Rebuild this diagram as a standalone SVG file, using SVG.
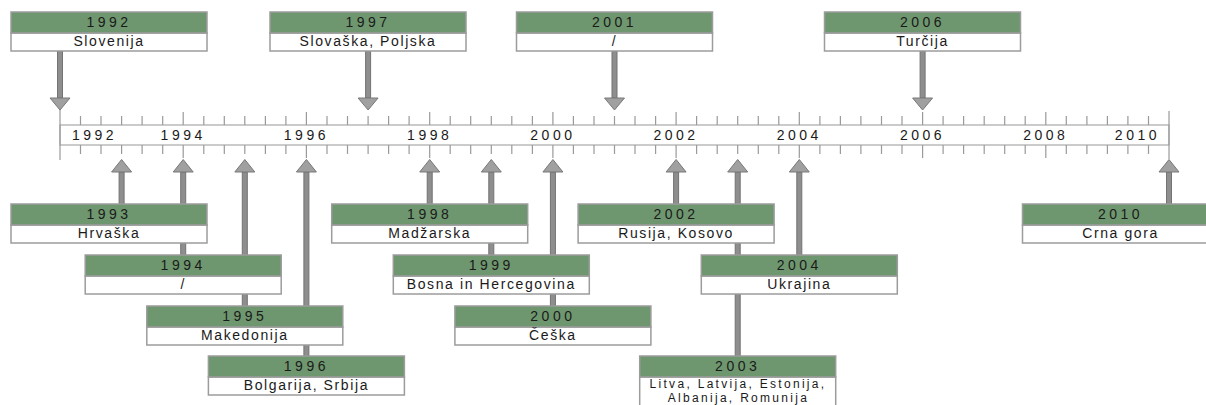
<svg xmlns="http://www.w3.org/2000/svg" width="1206" height="405" viewBox="0 0 1206 405">
<style>
.hd{fill:#6f976f;stroke:#9c9c9c;stroke-width:1.5}
.bd{fill:#fff;stroke:#9c9c9c;stroke-width:1.5}
.t{font-family:"Liberation Sans",Arial,sans-serif;font-size:14px;fill:#1a1a1a;text-anchor:middle}
.n{letter-spacing:3.5px}
.w{letter-spacing:1.6px}
.s{font-size:12px;letter-spacing:2.3px}
.sh{fill:#8e8e8e;stroke:#737373;stroke-width:1}
.ah{fill:#a0a0a0;stroke:#787878;stroke-width:1}
.tk{stroke:#9a9a9a;stroke-width:1.2;fill:none}
</style>
<g id="axis">
<rect x="60" y="125" width="1109" height="20" fill="#fff" stroke="#a8a8a8" stroke-width="1.2"/>
<path class="tk" d="M80.5 116V125M101 116V125M121.6 116V125M142.1 116V125M162.7 116V125M203.8 116V125M224.3 116V125M244.8 116V125M265.4 116V125M285.9 116V125M327 116V125M347.5 116V125M368.1 116V125M388.6 116V125M409.1 116V125M450.2 116V125M470.7 116V125M491.3 116V125M511.8 116V125M532.4 116V125M573.4 116V125M594 116V125M614.5 116V125M635 116V125M655.6 116V125M696.6 116V125M717.2 116V125M737.7 116V125M758.3 116V125M778.8 116V125M819.9 116V125M840.4 116V125M860.9 116V125M881.5 116V125M902 116V125M943.1 116V125M963.6 116V125M984.2 116V125M1004.7 116V125M1025.2 116V125M1066.3 116V125M1086.9 116V125M1107.4 116V125M1127.9 116V125M1148.5 116V125"/>
<path class="tk" d="M80.5 145V154M101 145V154M121.6 145V154M142.1 145V154M162.7 145V154M203.8 145V154M224.3 145V154M244.8 145V154M265.4 145V154M285.9 145V154M327 145V154M347.5 145V154M368.1 145V154M388.6 145V154M409.1 145V154M450.2 145V154M470.7 145V154M491.3 145V154M511.8 145V154M532.4 145V154M573.4 145V154M594 145V154M614.5 145V154M635 145V154M655.6 145V154M696.6 145V154M717.2 145V154M737.7 145V154M758.3 145V154M778.8 145V154M819.9 145V154M840.4 145V154M860.9 145V154M881.5 145V154M902 145V154M943.1 145V154M963.6 145V154M984.2 145V154M1004.7 145V154M1025.2 145V154M1066.3 145V154M1086.9 145V154M1107.4 145V154M1127.9 145V154M1148.5 145V154"/>
<path class="tk" d="M183.2 112V125M306.4 112V125M429.7 112V125M552.9 112V125M676.1 112V125M799.3 112V125M922.6 112V125M1045.8 112V125M183.2 145V158M306.4 145V158M429.7 145V158M552.9 145V158M676.1 145V158M799.3 145V158M922.6 145V158M1045.8 145V158"/>
<path class="tk" stroke-width="1.5" d="M60 110V160M1169 111V159"/>
<text class="t n" x="72" y="140" style="text-anchor:start">1992</text>
<text class="t n" x="183.2" y="140">1994</text>
<text class="t n" x="306.4" y="140">1996</text>
<text class="t n" x="429.7" y="140">1998</text>
<text class="t n" x="552.9" y="140">2000</text>
<text class="t n" x="676.1" y="140">2002</text>
<text class="t n" x="799.3" y="140">2004</text>
<text class="t n" x="922.6" y="140">2006</text>
<text class="t n" x="1045.8" y="140">2008</text>
<text class="t n" x="1160" y="140" style="text-anchor:end">2010</text>
</g>
<g id="connectors">
<rect class="sh" x="57.5" y="51" width="5" height="47"/><polygon class="ah" points="50,98 70,98 60,110"/>
<rect class="sh" x="365.6" y="51" width="5" height="47"/><polygon class="ah" points="358.1,98 378.1,98 368.1,110"/>
<rect class="sh" x="612" y="51" width="5" height="47"/><polygon class="ah" points="604.5,98 624.5,98 614.5,110"/>
<rect class="sh" x="920.1" y="51" width="5" height="47"/><polygon class="ah" points="912.6,98 932.6,98 922.6,110"/>
<rect class="sh" x="119.1" y="172" width="5" height="32"/><polygon class="ah" points="121.6,159.5 111.6,172 131.6,172"/>
<rect class="sh" x="180.7" y="172" width="5" height="83"/><polygon class="ah" points="183.2,159.5 173.2,172 193.2,172"/>
<rect class="sh" x="242.3" y="172" width="5" height="134"/><polygon class="ah" points="244.8,159.5 234.8,172 254.8,172"/>
<rect class="sh" x="303.9" y="172" width="5" height="184"/><polygon class="ah" points="306.4,159.5 296.4,172 316.4,172"/>
<rect class="sh" x="427.2" y="172" width="5" height="32"/><polygon class="ah" points="429.7,159.5 419.7,172 439.7,172"/>
<rect class="sh" x="488.8" y="172" width="5" height="83"/><polygon class="ah" points="491.3,159.5 481.3,172 501.3,172"/>
<rect class="sh" x="550.4" y="172" width="5" height="134"/><polygon class="ah" points="552.9,159.5 542.9,172 562.9,172"/>
<rect class="sh" x="673.6" y="172" width="5" height="32"/><polygon class="ah" points="676.1,159.5 666.1,172 686.1,172"/>
<rect class="sh" x="735.2" y="172" width="5" height="184"/><polygon class="ah" points="737.7,159.5 727.7,172 747.7,172"/>
<rect class="sh" x="796.8" y="172" width="5" height="83"/><polygon class="ah" points="799.3,159.5 789.3,172 809.3,172"/>
<rect class="sh" x="1166.5" y="172" width="5" height="32"/><polygon class="ah" points="1169,159.5 1159,172 1179,172"/>
</g>
<g id="n1992"><rect class="bd" x="11" y="33" width="196" height="18"/><rect class="hd" x="11" y="12" width="196" height="21"/><text class="t n" x="109" y="27">1992</text><text class="t w" x="109" y="46">Slovenija</text></g>
<g id="n1997"><rect class="bd" x="270" y="33" width="196" height="18"/><rect class="hd" x="270" y="12" width="196" height="21"/><text class="t n" x="368" y="27">1997</text><text class="t w" x="368" y="46">Slovaška, Poljska</text></g>
<g id="n2001"><rect class="bd" x="516.5" y="33" width="196" height="18"/><rect class="hd" x="516.5" y="12" width="196" height="21"/><text class="t n" x="614.5" y="27">2001</text><text class="t w" x="614.5" y="46">/</text></g>
<g id="n2006"><rect class="bd" x="824.5" y="33" width="196" height="18"/><rect class="hd" x="824.5" y="12" width="196" height="21"/><text class="t n" x="922.5" y="27">2006</text><text class="t w" x="922.5" y="46">Turčija</text></g>
<g id="n1993"><rect class="bd" x="11" y="225" width="196" height="18"/><rect class="hd" x="11" y="204" width="196" height="21"/><text class="t n" x="109" y="219">1993</text><text class="t w" x="109" y="238">Hrvaška</text></g>
<g id="n1994"><rect class="bd" x="85.2" y="276" width="196" height="18"/><rect class="hd" x="85.2" y="255" width="196" height="21"/><text class="t n" x="183.2" y="270">1994</text><text class="t w" x="183.2" y="289">/</text></g>
<g id="n1995"><rect class="bd" x="146.8" y="327" width="196" height="18"/><rect class="hd" x="146.8" y="306" width="196" height="21"/><text class="t n" x="244.8" y="321">1995</text><text class="t w" x="244.8" y="340">Makedonija</text></g>
<g id="n1996"><rect class="bd" x="208.4" y="377" width="196" height="18"/><rect class="hd" x="208.4" y="356" width="196" height="21"/><text class="t n" x="306.4" y="371">1996</text><text class="t w" x="306.4" y="390">Bolgarija, Srbija</text></g>
<g id="n1998"><rect class="bd" x="331.7" y="225" width="196" height="18"/><rect class="hd" x="331.7" y="204" width="196" height="21"/><text class="t n" x="429.7" y="219">1998</text><text class="t w" x="429.7" y="238">Madžarska</text></g>
<g id="n1999"><rect class="bd" x="393.3" y="276" width="196" height="18"/><rect class="hd" x="393.3" y="255" width="196" height="21"/><text class="t n" x="491.3" y="270">1999</text><text class="t w" x="491.3" y="289">Bosna in Hercegovina</text></g>
<g id="n2000"><rect class="bd" x="454.9" y="327" width="196" height="18"/><rect class="hd" x="454.9" y="306" width="196" height="21"/><text class="t n" x="552.9" y="321">2000</text><text class="t w" x="552.9" y="340">Češka</text></g>
<g id="n2002"><rect class="bd" x="578.1" y="225" width="196" height="18"/><rect class="hd" x="578.1" y="204" width="196" height="21"/><text class="t n" x="676.1" y="219">2002</text><text class="t w" x="676.1" y="238">Rusija, Kosovo</text></g>
<g id="n2004"><rect class="bd" x="701.3" y="276" width="196" height="18"/><rect class="hd" x="701.3" y="255" width="196" height="21"/><text class="t n" x="799.3" y="270">2004</text><text class="t w" x="799.3" y="289">Ukrajina</text></g>
<g id="n2003"><rect class="bd" x="639.7" y="377" width="196" height="40"/><rect class="hd" x="639.7" y="356" width="196" height="21"/><text class="t n" x="737.7" y="371">2003</text><text class="t s" x="738" y="388">Litva, Latvija, Estonija,</text><text class="t s" x="738.5" y="402">Albanija, Romunija</text></g>
<g id="n2010"><rect class="bd" x="1022.5" y="225" width="196" height="18"/><rect class="hd" x="1022.5" y="204" width="196" height="21"/><text class="t n" x="1120.5" y="219">2010</text><text class="t w" x="1120.5" y="238">Crna gora</text></g>
</svg>
